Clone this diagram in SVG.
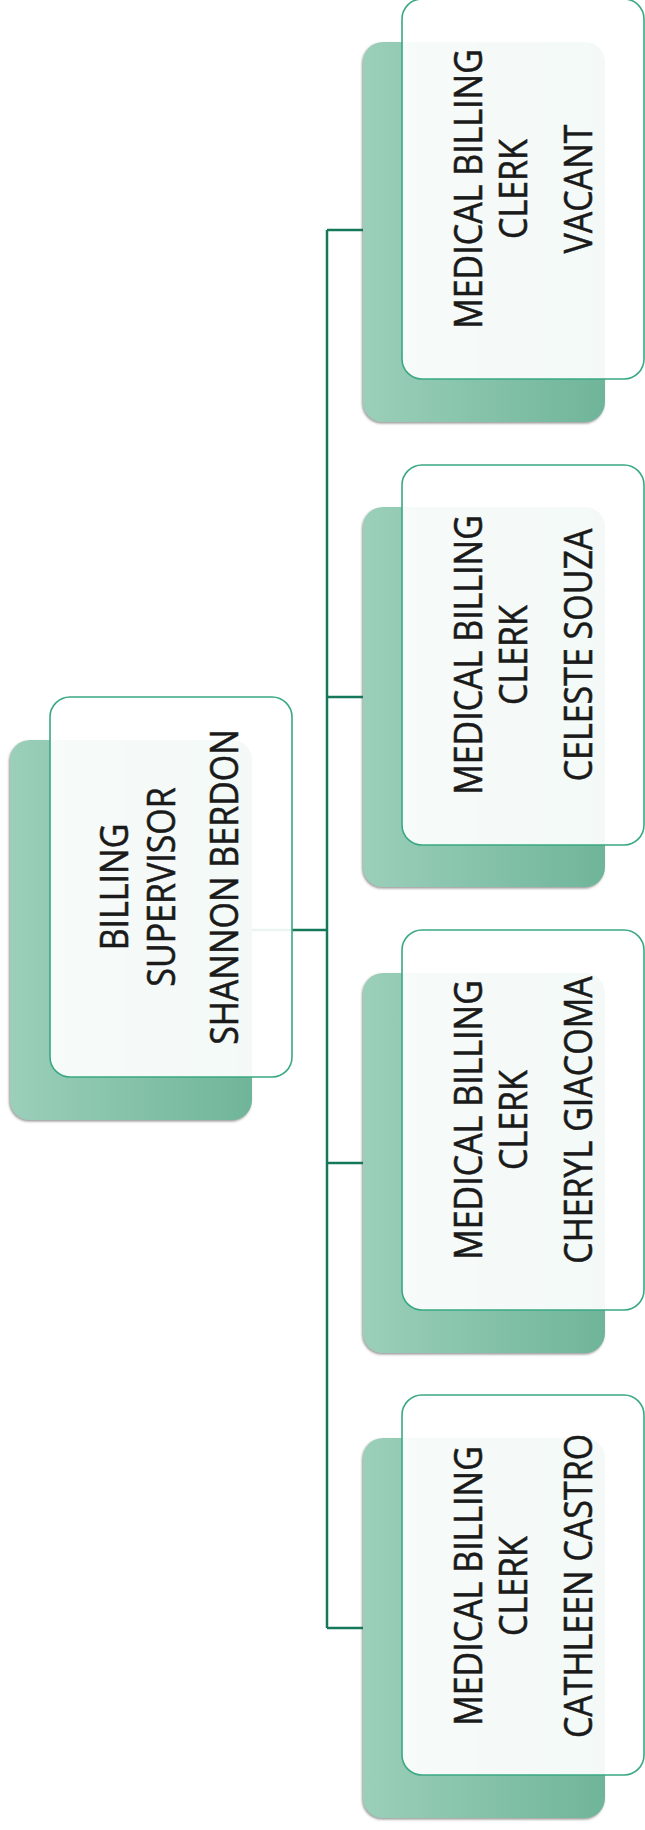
<svg xmlns="http://www.w3.org/2000/svg" width="645" height="1830" viewBox="0 0 645 1830">
<defs>
<linearGradient id="g" x1="0" y1="0" x2="1" y2="0">
<stop offset="0" stop-color="#9bcfb9"/>
<stop offset="1" stop-color="#6fb59a"/>
</linearGradient>
<filter id="sh" x="-10%" y="-10%" width="120%" height="120%">
<feDropShadow dx="-1" dy="1.5" stdDeviation="1" flood-color="#555" flood-opacity="0.6"/>
</filter>
<style>
.back{fill:url(#g);filter:url(#sh);}
.front{fill:#ffffff;fill-opacity:0.92;stroke:#3aa883;stroke-width:1.6;}
.lbl{font-family:"Open Sans","Liberation Sans",sans-serif;font-size:34px;fill:#1a1a1a;stroke:#1a1a1a;stroke-width:0.5;text-anchor:middle;}
.conn{fill:none;stroke:#16785a;stroke-width:2.5;}
</style>
</defs>
<g id="connectors">
<path class="conn" d="M252 930H327M327 230V1628M327 230H363M327 697H363M327 1163H363M327 1628H363"/>
</g>
<g id="supervisor">
<rect class="back" x="10" y="740" width="242" height="380" rx="20"/>
<rect class="front" x="50" y="697" width="242" height="380" rx="20"/>
<text class="lbl" transform="translate(0,887) rotate(-90) scale(1,1.12)"><tspan x="0" y="114.3">BILLING</tspan><tspan x="0" y="156.3">SUPERVISOR</tspan><tspan x="0" y="212.5">SHANNON BERDON</tspan></text>
</g>
<g id="clerk-vacant">
<rect class="back" x="363" y="42" width="242" height="380" rx="20"/>
<rect class="front" x="402" y="-1" width="242" height="380" rx="20"/>
<text class="lbl" transform="translate(0,189) rotate(-90) scale(1,1.12)"><tspan x="0" y="430.4">MEDICAL BILLING</tspan><tspan x="0" y="470.5">CLERK</tspan><tspan x="0" y="528.6">VACANT</tspan></text>
</g>
<g id="clerk-souza">
<rect class="back" x="363" y="507" width="242" height="380" rx="20"/>
<rect class="front" x="402" y="465" width="242" height="380" rx="20"/>
<text class="lbl" transform="translate(0,655) rotate(-90) scale(1,1.12)"><tspan x="0" y="430.4">MEDICAL BILLING</tspan><tspan x="0" y="470.5">CLERK</tspan><tspan x="0" y="528.6">CELESTE SOUZA</tspan></text>
</g>
<g id="clerk-giacoma">
<rect class="back" x="363" y="973" width="242" height="380" rx="20"/>
<rect class="front" x="402" y="930" width="242" height="380" rx="20"/>
<text class="lbl" transform="translate(0,1120) rotate(-90) scale(1,1.12)"><tspan x="0" y="430.4">MEDICAL BILLING</tspan><tspan x="0" y="470.5">CLERK</tspan><tspan x="0" y="528.6">CHERYL GIACOMA</tspan></text>
</g>
<g id="clerk-castro">
<rect class="back" x="363" y="1438" width="242" height="380" rx="20"/>
<rect class="front" x="402" y="1395" width="242" height="380" rx="20"/>
<text class="lbl" transform="translate(0,1586) rotate(-90) scale(1,1.12)"><tspan x="0" y="430.4">MEDICAL BILLING</tspan><tspan x="0" y="470.5">CLERK</tspan><tspan x="0" y="528.6">CATHLEEN CASTRO</tspan></text>
</g>
</svg>
